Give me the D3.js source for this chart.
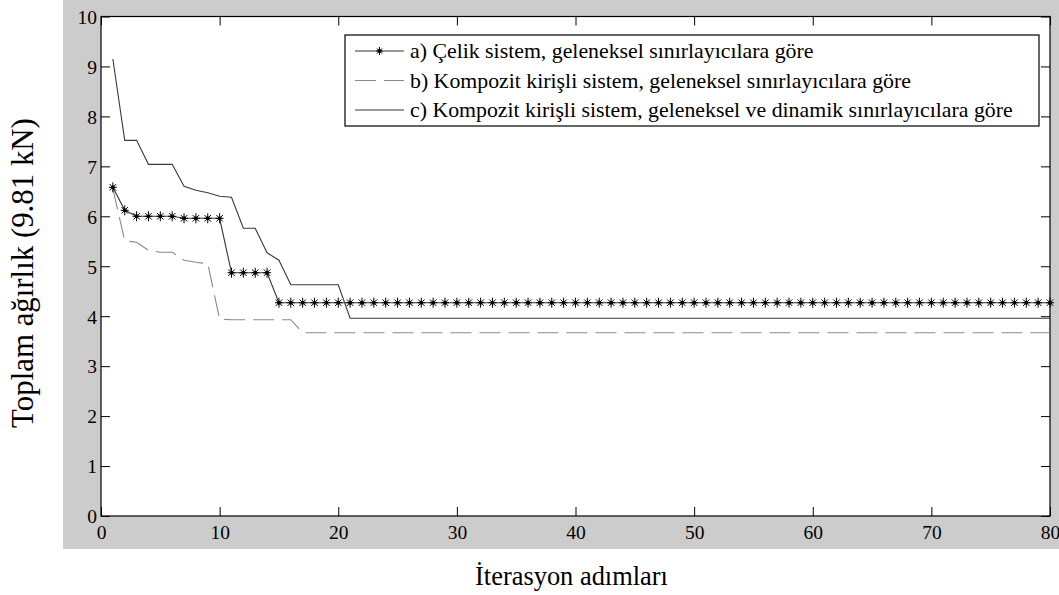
<!DOCTYPE html>
<html>
<head>
<meta charset="utf-8">
<script src="https://cdn.jsdelivr.net/npm/d3@7"></script>
<style>
  body { margin: 0; background: #fff; }
  svg { display: block; font-family: "Liberation Serif", "Times New Roman", serif; }
</style>
</head>
<body>
<div id="chart"></div>
<script>
// iteration steps 1..80
const iterations = d3.range(1, 81);

// a) Çelik sistem (star markers)
const seriesA = [6.58, 6.12, 6.0, 6.0, 6.0, 6.0, 5.96, 5.96, 5.96, 5.96,
  4.87, 4.87, 4.87, 4.87, 4.27, 4.27, 4.27, 4.27, 4.27, 4.27,
  4.27, 4.27, 4.27, 4.27, 4.27, 4.27, 4.27, 4.27, 4.27, 4.27,
  4.27, 4.27, 4.27, 4.27, 4.27, 4.27, 4.27, 4.27, 4.27, 4.27,
  4.27, 4.27, 4.27, 4.27, 4.27, 4.27, 4.27, 4.27, 4.27, 4.27,
  4.27, 4.27, 4.27, 4.27, 4.27, 4.27, 4.27, 4.27, 4.27, 4.27,
  4.27, 4.27, 4.27, 4.27, 4.27, 4.27, 4.27, 4.27, 4.27, 4.27,
  4.27, 4.27, 4.27, 4.27, 4.27, 4.27, 4.27, 4.27, 4.27, 4.27];

// b) Kompozit kirişli, geleneksel (dashed)
const seriesB = [6.55, 5.51, 5.48, 5.32, 5.28, 5.28, 5.12, 5.08, 5.05, 3.94,
  3.93, 3.93, 3.93, 3.93, 3.93, 3.93, 3.67, 3.67, 3.67, 3.67,
  3.67, 3.67, 3.67, 3.67, 3.67, 3.67, 3.67, 3.67, 3.67, 3.67,
  3.67, 3.67, 3.67, 3.67, 3.67, 3.67, 3.67, 3.67, 3.67, 3.67,
  3.67, 3.67, 3.67, 3.67, 3.67, 3.67, 3.67, 3.67, 3.67, 3.67,
  3.67, 3.67, 3.67, 3.67, 3.67, 3.67, 3.67, 3.67, 3.67, 3.67,
  3.67, 3.67, 3.67, 3.67, 3.67, 3.67, 3.67, 3.67, 3.67, 3.67,
  3.67, 3.67, 3.67, 3.67, 3.67, 3.67, 3.67, 3.67, 3.67, 3.67];

// c) Kompozit kirişli, geleneksel ve dinamik (solid)
const seriesC = [9.15, 7.52, 7.52, 7.04, 7.04, 7.04, 6.6, 6.52, 6.47, 6.4,
  6.38, 5.76, 5.76, 5.27, 5.12, 4.63, 4.63, 4.63, 4.63, 4.63,
  3.96, 3.96, 3.96, 3.96, 3.96, 3.96, 3.96, 3.96, 3.96, 3.96,
  3.96, 3.96, 3.96, 3.96, 3.96, 3.96, 3.96, 3.96, 3.96, 3.96,
  3.96, 3.96, 3.96, 3.96, 3.96, 3.96, 3.96, 3.96, 3.96, 3.96,
  3.96, 3.96, 3.96, 3.96, 3.96, 3.96, 3.96, 3.96, 3.96, 3.96,
  3.96, 3.96, 3.96, 3.96, 3.96, 3.96, 3.96, 3.96, 3.96, 3.96,
  3.96, 3.96, 3.96, 3.96, 3.96, 3.96, 3.96, 3.96, 3.96, 3.96];

const legendLabels = [
  'a) Çelik sistem, geleneksel sınırlayıcılara göre',
  'b) Kompozit kirişli sistem, geleneksel sınırlayıcılara göre',
  'c) Kompozit kirişli sistem, geleneksel ve dinamik sınırlayıcılara göre'
];
const xTicks = [0, 10, 20, 30, 40, 50, 60, 70, 80];
const yTicks = [0, 1, 2, 3, 4, 5, 6, 7, 8, 9, 10];

const W = 1059, H = 595;
const pLeft = 101, pRight = 1050, pTop = 16.5, pBottom = 516;

const svg = d3.select('#chart').append('svg')
  .attr('width', W).attr('height', H);

// font size that makes a text span a given width
function fitSize(str, width) {
  const t = svg.append('text').attr('font-size', 20).text(str);
  const w = t.node().getComputedTextLength();
  t.remove();
  return 20 * width / w;
}
const tickFont = fitSize('30', 19.5);
const legendFont = fitSize(legendLabels[2], 603);
const xTitleFont = fitSize('İterasyon adımları', 193);
const yTitleFont = fitSize('Toplam ağırlık (9.81 kN)', 310);

// gray figure background like matlab
svg.append('rect')
  .attr('x', 63).attr('y', 0)
  .attr('width', W - 63).attr('height', 549)
  .attr('fill', '#cccccc');

svg.append('rect')
  .attr('x', pLeft).attr('y', pTop)
  .attr('width', pRight - pLeft).attr('height', pBottom - pTop)
  .attr('fill', '#fff');

const x = d3.scaleLinear().domain([0, 80]).range([pLeft, pRight]);
const y = d3.scaleLinear().domain([0, 10]).range([pBottom, pTop]);

const tickLen = 9;

// axes, ticks pointing inside
const gx = svg.append('g').attr('transform', `translate(0,${pBottom})`)
  .call(d3.axisBottom(x).tickValues(xTicks).tickSize(-tickLen).tickPadding(0));
gx.selectAll('text').attr('y', 22.5).attr('dy', 0);

const gy = svg.append('g').attr('transform', `translate(${pLeft},0)`)
  .call(d3.axisLeft(y).tickValues(yTicks).tickSize(-tickLen).tickPadding(0));
gy.selectAll('text').attr('x', -4).attr('dy', '0.35em');

svg.append('g').attr('transform', `translate(0,${pTop})`)
  .call(d3.axisTop(x).tickValues(xTicks).tickSize(-tickLen).tickFormat(''));
svg.append('g').attr('transform', `translate(${pRight},0)`)
  .call(d3.axisRight(y).tickValues(yTicks).tickSize(-tickLen).tickFormat(''));

svg.selectAll('.domain').remove();
svg.selectAll('.tick line').attr('stroke', '#000').attr('stroke-width', 1);
svg.selectAll('.tick text')
  .attr('font-family', '"Liberation Serif", serif')
  .attr('font-size', tickFont).attr('fill', '#000');

// box
svg.append('rect')
  .attr('x', pLeft).attr('y', pTop)
  .attr('width', pRight - pLeft).attr('height', pBottom - pTop)
  .attr('fill', 'none').attr('stroke', '#000').attr('stroke-width', 1.2);

const line = d3.line()
  .x((d, i) => x(iterations[i]))
  .y(d => y(d));

const plot = svg.append('g');

plot.append('path').datum(seriesB)
  .attr('d', line).attr('fill', 'none')
  .attr('stroke', '#8a8a8a').attr('stroke-width', 1.1)
  .attr('stroke-dasharray', '21,8');

plot.append('path').datum(seriesC)
  .attr('d', line).attr('fill', 'none')
  .attr('stroke', '#3a3a3a').attr('stroke-width', 1.1);

plot.append('path').datum(seriesA)
  .attr('d', line).attr('fill', 'none')
  .attr('stroke', '#333').attr('stroke-width', 1.1);

// asterisk marker
function star(g, r) {
  g.append('line').attr('x1', 0).attr('y1', -r).attr('x2', 0).attr('y2', r);
  g.append('line').attr('x1', -r * 0.8).attr('y1', 0).attr('x2', r * 0.8).attr('y2', 0);
  g.append('line').attr('x1', -r * 0.65).attr('y1', -r * 0.65).attr('x2', r * 0.65).attr('y2', r * 0.65);
  g.append('line').attr('x1', -r * 0.65).attr('y1', r * 0.65).attr('x2', r * 0.65).attr('y2', -r * 0.65);
  g.append('circle').attr('r', 1.5).attr('fill', '#000');
}

plot.selectAll('g.star').data(seriesA).enter().append('g')
  .attr('class', 'star')
  .attr('transform', (d, i) => `translate(${x(iterations[i])},${y(d)})`)
  .attr('stroke', '#000').attr('stroke-width', 1)
  .each(function() { star(d3.select(this), 5); });

// legend
const lg = svg.append('g');
lg.append('rect')
  .attr('x', 345).attr('y', 35).attr('width', 694).attr('height', 91)
  .attr('fill', '#fff').attr('stroke', '#000').attr('stroke-width', 1.2);

const rowY = [51, 80.5, 110];
const styles = [
  { stroke: '#333', dash: null },
  { stroke: '#8a8a8a', dash: '21,8' },
  { stroke: '#3a3a3a', dash: null }
];
legendLabels.forEach((lab, i) => {
  lg.append('line')
    .attr('x1', 355).attr('x2', 404).attr('y1', rowY[i]).attr('y2', rowY[i])
    .attr('stroke', styles[i].stroke).attr('stroke-width', 1.1)
    .attr('stroke-dasharray', styles[i].dash);
  lg.append('text')
    .attr('x', 410).attr('y', rowY[i]).attr('dy', '0.33em')
    .attr('font-size', legendFont).attr('fill', '#000')
    .text(lab);
});
const ls = lg.append('g').attr('transform', `translate(379.5,${rowY[0]})`)
  .attr('stroke', '#000').attr('stroke-width', 1);
star(ls, 4);

// axis titles
svg.append('text')
  .attr('x', 571.5).attr('y', 585)
  .attr('text-anchor', 'middle').attr('font-size', xTitleFont)
  .text('İterasyon adımları');

svg.append('text')
  .attr('transform', 'translate(33,273) rotate(-90)')
  .attr('text-anchor', 'middle').attr('font-size', yTitleFont)
  .text('Toplam ağırlık (9.81 kN)');
</script>
</body>
</html>
